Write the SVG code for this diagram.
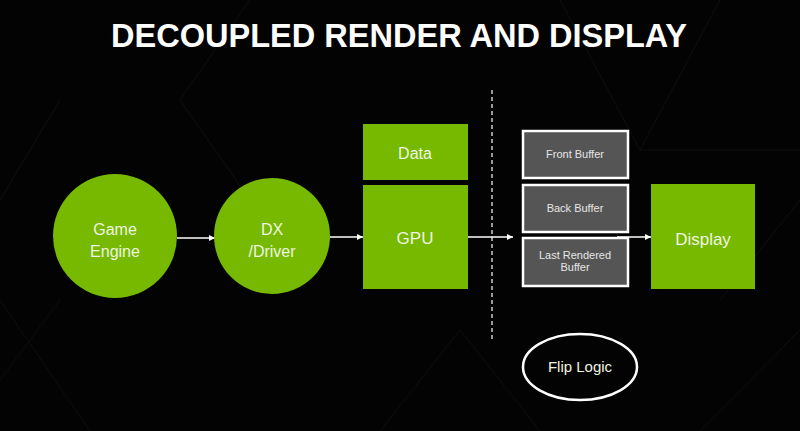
<svg xmlns="http://www.w3.org/2000/svg" width="800" height="431" viewBox="0 0 800 431">
<defs>
<style>
.bg{fill:#030303}
.hex{fill:none;stroke:#0e0e0e;stroke-width:1}
.g{fill:#76b900}
.buf{fill:#555;stroke:#fff;stroke-width:2.5}
.t{font-family:"Liberation Sans",Arial,sans-serif;fill:#eef5e0;text-anchor:middle}
.tb{font-family:"Liberation Sans",Arial,sans-serif;fill:#e6e6e6;text-anchor:middle;font-size:11px}
.c{stroke:#fff;stroke-width:1.3;fill:none}
</style>
<marker id="ah" viewBox="0 0 10 10" refX="10" refY="5" markerWidth="6" markerHeight="6" orient="auto" markerUnits="userSpaceOnUse">
<path d="M0,0 L10,5 L0,10 z" fill="#fff"/>
</marker>
</defs>
<rect class="bg" x="0" y="0" width="800" height="431"/>
<g id="background">
<path class="hex" d="M0,300 L90,431 M60,300 L0,380 M560,0 L640,150 L720,0 M640,150 L800,150 M720,300 L800,200 M700,431 L800,330 M380,431 L460,330 L540,431 M250,0 L180,100 L250,200 M0,200 L60,100"/>
</g>
<g id="title">
<text x="399" y="47" font-family="'Liberation Sans',Arial,sans-serif" font-weight="bold" font-size="34" fill="#fff" text-anchor="middle" textLength="576" lengthAdjust="spacingAndGlyphs">DECOUPLED RENDER AND DISPLAY</text>
</g>
<g id="divider">
<line x1="492" y1="90" x2="492" y2="340" stroke="#ccc" stroke-width="1.5" stroke-dasharray="4,3"/>
</g>
<g id="connectors">
<line class="c" x1="177" y1="238" x2="215" y2="238" marker-end="url(#ah)"/>
<line class="c" x1="329" y1="237" x2="363" y2="237" marker-end="url(#ah)"/>
<line class="c" x1="468" y1="237" x2="513" y2="237" marker-end="url(#ah)"/>
<line class="c" x1="617" y1="237" x2="651" y2="237" marker-end="url(#ah)"/>
</g>
<g id="game-engine">
<circle class="g" cx="115" cy="236" r="62"/>
<text class="t" x="115" y="235" font-size="16">Game</text>
<text class="t" x="115" y="257" font-size="16">Engine</text>
</g>
<g id="dx-driver">
<circle class="g" cx="272" cy="236" r="58"/>
<text class="t" x="272" y="235" font-size="16">DX</text>
<text class="t" x="272" y="257" font-size="16">/Driver</text>
</g>
<g id="data">
<rect class="g" x="363" y="124" width="105" height="56"/>
<text class="t" x="415" y="159" font-size="16">Data</text>
</g>
<g id="gpu">
<rect class="g" x="363" y="185" width="105" height="104"/>
<text class="t" x="415" y="244" font-size="17">GPU</text>
</g>
<g id="front-buffer">
<rect class="buf" x="523" y="131" width="105" height="47"/>
<text class="tb" x="575" y="158">Front Buffer</text>
</g>
<g id="back-buffer">
<rect class="buf" x="523" y="185" width="105" height="47"/>
<text class="tb" x="575" y="212">Back Buffer</text>
</g>
<g id="last-rendered-buffer">
<rect class="buf" x="523" y="238" width="105" height="48"/>
<text class="tb" x="575" y="259">Last Rendered</text>
<text class="tb" x="575" y="271">Buffer</text>
</g>
<g id="display">
<rect class="g" x="651" y="184" width="104" height="105"/>
<text class="t" x="703" y="245" font-size="17">Display</text>
</g>
<g id="flip-logic">
<ellipse cx="580" cy="367" rx="57" ry="33" fill="none" stroke="#fff" stroke-width="2.5"/>
<text class="t" x="580" y="372" font-size="15" fill="#fff">Flip Logic</text>
</g>
</svg>
